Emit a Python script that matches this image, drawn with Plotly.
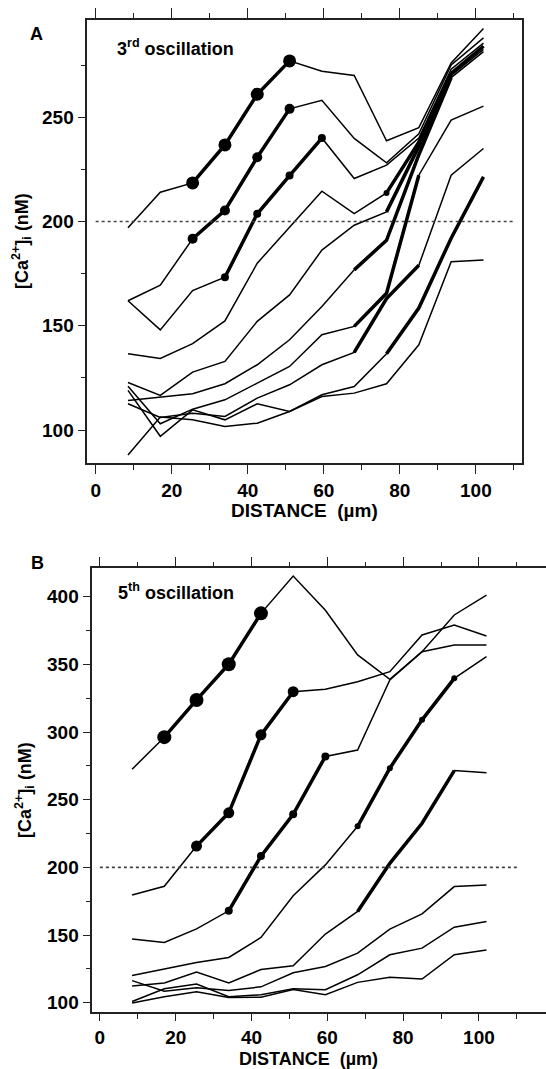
import plotly.graph_objects as go

# ---------------- data ----------------
DIST = [8.5, 17, 25.5, 34, 42.5, 51, 59.5, 68, 76.5, 85, 93.5, 102]

# Panel A (3rd oscillation), [Ca2+]i in nM
A1 = [197, 214, 218.5, 236.7, 261, 277, 272, 270, 238.7, 245, 276, 292.5]
A2 = [162, 169.5, 191.7, 205.3, 230.8, 254, 258.1, 239.8, 228.1, 242, 275, 288]
A3 = [162, 148, 166.9, 173.3, 203.7, 222, 240, 220.6, 227, 240, 273, 285.5]
A4 = [136.6, 134.3, 141.4, 152.3, 180, 197.3, 214.5, 203.8, 213.7, 238, 271, 284]
A5 = [122.8, 116.6, 127.8, 132.9, 152.1, 164.8, 186.3, 198.2, 204.6, 236, 270, 282.5]
A6 = [114.2, 115.8, 117.4, 122.2, 131.3, 143.3, 159.2, 176.8, 191, 232, 269, 281.4]
A7 = [121, 103, 110, 114.5, 122.5, 130.5, 145.7, 149.7, 165.6, 222.2, 248.6, 255.3]
A8 = [112.6, 106, 108.1, 106.5, 115.3, 121.7, 131.3, 137.2, 163, 179, 222.2, 235]
A9 = [119, 97, 109.7, 104.9, 112.6, 108.9, 116.9, 120.9, 136.6, 158.5, 192, 221.4]
A10 = [88, 106.2, 104.9, 101.7, 103.3, 108.9, 116.1, 117.7, 122.2, 140.9, 180.7, 181.5]

# Panel B (5th oscillation)
B1 = [272.5, 296.2, 323.7, 350.1, 387.7, 415.3, 390, 357, 339, 359.4, 364.3, 364.3]
B2 = [179.5, 186, 215.7, 240.3, 297.9, 329.8, 331.6, 337.2, 344.6, 371.7, 379, 371]
B3 = [147, 144.5, 154.5, 167.9, 208.3, 239.2, 282, 286.7, 338.5, 359.4, 386.5, 401.2]
B4 = [120, 125, 129.6, 133.4, 148.2, 179, 201.8, 230.3, 273.3, 309, 339.7, 355.7]
B5 = [112.4, 114.5, 122.7, 114.6, 124.5, 127.2, 150.7, 167.4, 203, 232.6, 271.5, 270]
B6 = [116.3, 108.5, 111, 109, 111.7, 122.1, 126.7, 136.6, 154.3, 165.6, 185.8, 187]
B7 = [100.9, 110.3, 113.8, 104.4, 105.8, 110.3, 109.6, 120.6, 135.4, 140.3, 155.8, 160]
B8 = [99.8, 104.4, 108.1, 103.8, 104, 109.7, 105.9, 115, 118.7, 117.5, 135.4, 139]

THRESHOLD = 200
THRESH_X = [0, 110]

A_SERIES = [A1, A2, A3, A4, A5, A6, A7, A8, A9, A10]
B_SERIES = [B1, B2, B3, B4, B5, B6, B7, B8]

# emphasised (wave-front) segments: (first index, last index, marker size)
A_FRONT = [(2, 5, 13), (2, 5, 10), (3, 6, 8), (8, 11, 0), (8, 10, 0),
           (7, 10, 0), (7, 9, 0), (7, 9, 0), (8, 11, 0), None]
A_DOT = {3: (8, 6)}  # small dot on A4 at 76.5 um
B_FRONT = [(1, 4, 14), (2, 5, 11), (3, 6, 8), (7, 10, 6), (7, 10, 0),
           None, None, None]

FONT = "Liberation Sans, Arial, sans-serif"
W, H = 546, 1069

fig = go.Figure()


def add_panel(series, fronts, xa, ya, dots=None):
    for i, ys in enumerate(series):
        fig.add_trace(go.Scatter(x=DIST, y=ys, mode="lines", xaxis=xa, yaxis=ya,
                                 line=dict(color="black", width=1.5),
                                 showlegend=False, hoverinfo="skip"))
        f = fronts[i]
        if f:
            s, e, ms = f
            fig.add_trace(go.Scatter(
                x=DIST[s:e + 1], y=ys[s:e + 1],
                mode="lines+markers" if ms else "lines",
                xaxis=xa, yaxis=ya,
                line=dict(color="black", width=3.5),
                marker=dict(size=ms, color="black"),
                showlegend=False, hoverinfo="skip"))
        if dots and i in dots:
            k, ms = dots[i]
            fig.add_trace(go.Scatter(x=[DIST[k]], y=[ys[k]], mode="markers",
                                     xaxis=xa, yaxis=ya,
                                     marker=dict(size=ms, color="black"),
                                     showlegend=False, hoverinfo="skip"))


add_panel(A_SERIES, A_FRONT, "x", "y", A_DOT)
add_panel(B_SERIES, B_FRONT, "x3", "y2")

# threshold dotted lines
for xa, ya in (("x", "y"), ("x3", "y2")):
    fig.add_trace(go.Scatter(x=THRESH_X, y=[THRESHOLD, THRESHOLD], mode="lines",
                             xaxis=xa, yaxis=ya,
                             line=dict(color="#444", width=1.6, dash="dot"),
                             showlegend=False, hoverinfo="skip"))

# make overlay top axes render
fig.add_trace(go.Scatter(x=[None], y=[None], xaxis="x2", yaxis="y",
                         showlegend=False, hoverinfo="skip"))
fig.add_trace(go.Scatter(x=[None], y=[None], xaxis="x4", yaxis="y2",
                         showlegend=False, hoverinfo="skip"))


# ---------------- layout ----------------
def px_x(p):
    return p / W


def px_y(p):
    return 1 - p / H


A_DOM_X = [px_x(87.3), px_x(521.5)]
A_DOM_Y = [px_y(463), px_y(20)]
B_DOM_X = [px_x(92.3), 1.0]
B_DOM_Y = [px_y(1012), px_y(568.3)]
A_XR = [-2.2, 112]
A_YR = [84.2, 296.6]
B_XR = [-2.0, 117.7]
B_YR = [93.1, 421]

tickfont = dict(family=FONT, size=19, color="black", weight="bold")
axcommon = dict(showgrid=False, zeroline=False, showline=True, linecolor="#222",
                linewidth=1.5, ticks="outside", tickcolor="#222", tickwidth=1.4)


def bottom_x(tlen):
    return dict(**axcommon, dtick=20, tick0=0, ticklen=tlen, tickfont=tickfont,
                minor=dict(dtick=10, tick0=0, ticklen=5, ticks="outside",
                           tickcolor="#222", showgrid=False))


top_x = dict(**axcommon, dtick=20, tick0=0, ticklen=10, showticklabels=False,
             side="top",
             minor=dict(dtick=10, tick0=0, ticklen=5, ticks="outside",
                        tickcolor="#222", showgrid=False))
left_y = dict(**axcommon, dtick=50, tick0=0, ticklen=8, tickfont=tickfont,
              minor=dict(dtick=25, tick0=0, ticklen=5, ticks="outside",
                         tickcolor="#222", showgrid=False))

fig.update_layout(
    width=W, height=H, margin=dict(l=0, r=0, t=0, b=0),
    paper_bgcolor="white", plot_bgcolor="white",
    xaxis=dict(**bottom_x(9), domain=A_DOM_X, range=A_XR, anchor="y"),
    xaxis2=dict(**top_x, domain=A_DOM_X, range=A_XR, anchor="y", overlaying="x"),
    yaxis=dict(**left_y, domain=A_DOM_Y, range=A_YR, anchor="x", mirror=True),
    xaxis3=dict(**bottom_x(7), domain=B_DOM_X, range=B_XR, anchor="y2"),
    xaxis4=dict(**top_x, domain=B_DOM_X, range=B_XR, anchor="y2", overlaying="x3"),
    yaxis2=dict(**left_y, domain=B_DOM_Y, range=B_YR, anchor="x3"),
)

lab = dict(family=FONT, size=18, color="black", weight="bold")


def note(text, cx, cy, xanchor="center", **kw):
    return dict(text=text, x=px_x(cx), y=px_y(cy), xref="paper", yref="paper",
                xanchor=xanchor, yanchor="middle", showarrow=False, **kw)


ann = [
    note("A", 36, 34, font=lab),
    note("B", 37, 563, font=lab),
    note("3<sup>rd</sup> oscillation", 115, 47, xanchor="left", font=lab),
    note("5<sup>th</sup> oscillation", 116, 591, xanchor="left", font=lab),
    note("DISTANCE  (\u00b5m)", 304, 510,
         font=dict(family=FONT, size=19, color="black", weight="bold")),
    note("DISTANCE  (\u00b5m)", 308, 1059,
         font=dict(family=FONT, size=18, color="black", weight="bold")),
    note("[Ca<sup>2+</sup>]<sub>i</sub> (nM)", 22, 241, textangle=-90,
         font=dict(family=FONT, size=18, color="black", weight="bold")),
    note("[Ca<sup>2+</sup>]<sub>i</sub> (nM)", 24, 790, textangle=-90,
         font=dict(family=FONT, size=18, color="black", weight="bold")),
]
fig.update_layout(annotations=ann)

fig.write_html("out.html")
